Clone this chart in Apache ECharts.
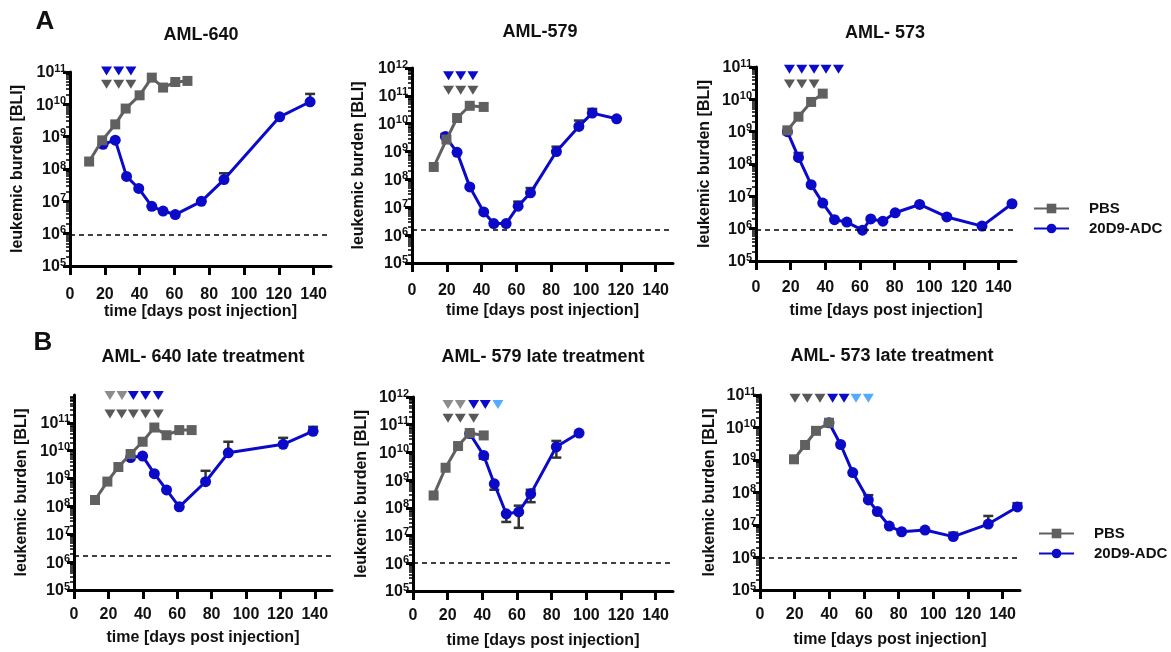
<!DOCTYPE html>
<html><head><meta charset="utf-8">
<script src="https://cdn.jsdelivr.net/npm/echarts@6/dist/echarts.min.js"></script>
<style>html,body{margin:0;padding:0;background:#fff}#c{width:1171px;height:652px}</style>
</head><body><div id="c"></div>
<script>
// ---------------- DATA ----------------
const X_TICKS = [0, 20, 40, 60, 80, 100, 120, 140];
const SERIES_NAMES = ['PBS', '20D9-ADC'];

// A: AML-640
const A640_PBS_DAY = [11, 18.5, 26, 32, 40, 47, 53.5, 60.5, 67.5];
const A640_PBS_BLI = [1.7e8, 7.7e8, 2.4e9, 7.4e9, 1.9e10, 6.7e10, 3.3e10, 4.9e10, 5.3e10];
const A640_ADC_DAY = [19, 26, 32.5, 39.5, 47, 53.5, 60.5, 75.5, 88.5, 120.5, 138];
const A640_ADC_BLI = [5.8e8, 7.8e8, 5.9e7, 2.5e7, 7e6, 5e6, 3.9e6, 1.0e7, 4.7e7, 4.1e9, 1.2e10];
const A640_ADC_HI = [null, null, null, null, null, null, null, null, 7.4e7, null, 2.1e10];
const A640_THR = 9e5;
const A640_TX_ADC = [21, 28, 35];
const A640_TX_PBS = [21, 28, 35];

// A: AML-579
const A579_PBS_DAY = [12.5, 19.8, 25.9, 33.2, 41.2];
const A579_PBS_BLI = [2.8e8, 2.7e9, 1.6e10, 4.4e10, 4.0e10];
const A579_ADC_DAY = [19.2, 25.9, 33.2, 41.2, 47, 54.1, 61, 68.1, 83, 95.9, 103.6, 117.6];
const A579_ADC_BLI = [3.5e9, 9.4e8, 5.4e7, 6.8e6, 2.6e6, 2.6e6, 1.1e7, 3.3e7, 1.0e9, 8.0e9, 2.4e10, 1.5e10];
const A579_ADC_HI = [4.3e9, null, null, null, null, null, 1.6e7, 4.9e7, 1.5e9, 1.3e10, 3.4e10, null];
const A579_THR = 1.5e6;
const A579_TX_ADC = [21, 28, 35];
const A579_TX_PBS = [21, 28, 35];

// A: AML-573
const A573_PBS_DAY = [18.1, 24.5, 31.8, 38.5];
const A573_PBS_BLI = [1.1e9, 2.9e9, 8.3e9, 1.5e10];
const A573_ADC_DAY = [18.1, 24.5, 31.8, 38.5, 45.3, 52.4, 61.4, 66.2, 73.2, 80.3, 94.4, 110.1, 130.4, 147.7];
const A573_ADC_BLI = [1.0e9, 1.6e8, 2.3e7, 6.2e6, 1.9e6, 1.6e6, 9.0e5, 2.0e6, 1.7e6, 3.1e6, 5.6e6, 2.3e6, 1.2e6, 5.9e6];
const A573_ADC_HI = [null, 2.2e8, null, null, null, null, null, null, null, null, null, null, null, null];
const A573_THR = 9e5;
const A573_TX_ADC = [19.3, 26.4, 33.5, 40.4, 47.6];
const A573_TX_PBS = [19.3, 26.4, 33.5];

// B: AML-640 late treatment
const B640_PBS_DAY = [12.2, 19.4, 25.8, 32.9, 39.9, 46.7, 53.8, 61.2, 68.4];
const B640_PBS_BLI = [1.7e8, 7.8e8, 2.6e9, 7.6e9, 2.1e10, 6.8e10, 3.6e10, 5.5e10, 5.5e10];
const B640_ADC_DAY = [32.9, 39.9, 46.7, 53.8, 61.2, 76.5, 89.7, 121.6, 139];
const B640_ADC_BLI = [5.7e9, 6.4e9, 1.5e9, 3.9e8, 9.7e7, 7.7e8, 8.4e9, 1.7e10, 5.0e10];
const B640_ADC_HI = [null, null, null, null, null, 1.9e9, 2.1e10, 2.9e10, 7.2e10];
const B640_THR = 1.7e6;
const B640_TX_PRE = [20.9, 27.9];
const B640_TX_ADC = [34.5, 41.6, 49];
const B640_TX_PBS = [20.9, 27.7, 34.5, 41.6, 49];

// B: AML-579 late treatment
const B579_PBS_DAY = [11.9, 18.8, 26, 32.7, 40.8];
const B579_PBS_BLI = [2.8e8, 2.8e9, 1.7e10, 5.0e10, 4.1e10];
const B579_ADC_DAY = [32.7, 40.8, 46.9, 53.8, 61, 67.9, 82.7, 95.8];
const B579_ADC_BLI = [4.8e10, 7.8e9, 7.4e8, 6.1e7, 7.1e7, 3.2e8, 1.6e10, 5.0e10];
const B579_ADC_HI = [null, null, null, null, 1.2e8, 4.5e8, 2.6e10, null];
const B579_ADC_LO = [null, 5.9e9, 4.5e8, 3.1e7, 1.9e7, 1.6e8, 6.5e9, null];
const B579_THR = 1.05e6;
const B579_TX_PRE = [20.2, 27.3];
const B579_TX_ADC = [35, 41.7];
const B579_TX_LATE = [49];
const B579_TX_PBS = [20.2, 27.3, 35];

// B: AML-573 late treatment
const B573_PBS_DAY = [19.6, 26, 32.3, 39.8];
const B573_PBS_BLI = [1.05e9, 2.9e9, 7.9e9, 1.4e10];
const B573_ADC_DAY = [39.8, 46.5, 53.5, 62.5, 67.7, 74.6, 81.7, 95.2, 111.5, 131.7, 148.5];
const B573_ADC_BLI = [1.4e10, 3.0e9, 4.1e8, 5.9e7, 2.6e7, 9.3e6, 6.2e6, 7.0e6, 4.4e6, 1.07e7, 3.6e7];
const B573_ADC_HI = [null, null, null, 8.3e7, null, null, null, null, 5.8e6, 1.9e7, 4.7e7];
const B573_THR = 1.0e6;
const B573_TX_PRE = [20.2, 27.3, 34.6];
const B573_TX_ADC = [41.9, 48.5];
const B573_TX_LATE = [55.4, 62.5];

// ---------------- STYLE / LAYOUT ----------------
const FONT = '"Liberation Sans", Arial, Helvetica, sans-serif';
const BLUE = '#0a0ac8', GRAY = '#606060', LGRAY = '#8c8c8c', DGRAY = '#585858', LBLUE = '#55aaff', ERRC = '#333333';
const TXT = '#111111';

const panels = [
  { title: 'AML-640', titleX: 201, titleY: 35, grid: { left: 70, top: 72, width: 261, height: 194 }, ymax: 1e11,
    lm: 21, ng: 34, yng: 44,
    pbsDay: A640_PBS_DAY, pbs: A640_PBS_BLI, adcDay: A640_ADC_DAY, adc: A640_ADC_BLI, hi: A640_ADC_HI, lo: null, thr: A640_THR,
    marks: [{ days: A640_TX_ADC, level: 1.07e11, color: BLUE }, { days: A640_TX_PBS, level: 4.2e10, color: DGRAY }] },
  { title: 'AML-579', titleX: 540, titleY: 32, grid: { left: 412, top: 68, width: 261, height: 195 }, ymax: 1e12,
    lm: 19.5, ng: 39.5, yng: 45,
    pbsDay: A579_PBS_DAY, pbs: A579_PBS_BLI, adcDay: A579_ADC_DAY, adc: A579_ADC_BLI, hi: A579_ADC_HI, lo: null, thr: A579_THR,
    marks: [{ days: A579_TX_ADC, level: 5.3e11, color: BLUE }, { days: A579_TX_PBS, level: 1.6e11, color: DGRAY }] },
  { title: 'AML- 573', titleX: 885, titleY: 33, grid: { left: 756, top: 67, width: 260, height: 194 }, ymax: 1e11,
    lm: 18.5, ng: 42, yng: 43,
    pbsDay: A573_PBS_DAY, pbs: A573_PBS_BLI, adcDay: A573_ADC_DAY, adc: A573_ADC_BLI, hi: A573_ADC_HI, lo: null, thr: A573_THR,
    marks: [{ days: A573_TX_ADC, level: 8.5e10, color: BLUE }, { days: A573_TX_PBS, level: 3e10, color: DGRAY }] },
  { title: 'AML- 640 late treatment', titleX: 203, titleY: 357, grid: { left: 74, top: 395, width: 258, height: 195 }, ymax: 1e12, ylabmax: 1e11,
    lm: 17, ng: 40, yng: 44,
    pbsDay: B640_PBS_DAY, pbs: B640_PBS_BLI, adcDay: B640_ADC_DAY, adc: B640_ADC_BLI, hi: B640_ADC_HI, lo: null, thr: B640_THR,
    marks: [{ days: B640_TX_PRE, level: 9.6e11, color: LGRAY }, { days: B640_TX_ADC, level: 9.6e11, color: BLUE },
            { days: B640_TX_PBS, level: 2.1e11, color: DGRAY }] },
  { title: 'AML- 579 late treatment', titleX: 543, titleY: 357, grid: { left: 413, top: 397, width: 260, height: 194 }, ymax: 1e12,
    lm: 17, ng: 42, yng: 43,
    pbsDay: B579_PBS_DAY, pbs: B579_PBS_BLI, adcDay: B579_ADC_DAY, adc: B579_ADC_BLI, hi: B579_ADC_HI, lo: B579_ADC_LO, thr: B579_THR,
    marks: [{ days: B579_TX_PRE, level: 5.4e11, color: LGRAY }, { days: B579_TX_ADC, level: 5.4e11, color: BLUE },
            { days: B579_TX_LATE, level: 5.4e11, color: LBLUE }, { days: B579_TX_PBS, level: 1.7e11, color: DGRAY }] },
  { title: 'AML- 573 late treatment', titleX: 892, titleY: 356, grid: { left: 760, top: 395, width: 260, height: 195 }, ymax: 1e11,
    lm: 17, ng: 42, yng: 42,
    pbsDay: B573_PBS_DAY, pbs: B573_PBS_BLI, adcDay: B573_ADC_DAY, adc: B573_ADC_BLI, hi: B573_ADC_HI, lo: null, thr: B573_THR,
    marks: [{ days: B573_TX_PRE, level: 8e10, color: DGRAY }, { days: B573_TX_ADC, level: 8e10, color: BLUE },
            { days: B573_TX_LATE, level: 8e10, color: LBLUE }] }
];

function decades(lo, hi) { const r = []; for (let e = Math.round(Math.log10(lo)); e <= Math.round(Math.log10(hi)); e++) r.push(Math.pow(10, e)); return r; }
function minorTicks(lo, hi) {
  const r = [];
  for (let e = Math.round(Math.log10(lo)); e < Math.round(Math.log10(hi)); e++)
    for (let k = 2; k <= 9; k++) r.push(k * Math.pow(10, e));
  return r;
}

function errRender(params, api) {
  const x = api.value(0), y = api.value(1), lo = api.value(2), hi = api.value(3);
  const p = api.coord([x, y]);
  const st = { stroke: ERRC, lineWidth: 2.5 };
  const ch = [];
  [hi, lo].forEach(function (v, i) {
    if ((i === 0 && v > y) || (i === 1 && v < y)) {
      const q = api.coord([x, v]);
      ch.push({ type: 'line', shape: { x1: p[0], y1: p[1], x2: q[0], y2: q[1] }, style: st });
      ch.push({ type: 'line', shape: { x1: q[0] - 5, y1: q[1], x2: q[0] + 5, y2: q[1] }, style: st });
    }
  });
  return { type: 'group', children: ch };
}

const grids = [], xAxes = [], yAxes = [], series = [];
panels.forEach(function (p, i) {
  grids.push(Object.assign({ containLabel: false }, p.grid));
  xAxes.push({
    type: 'value', gridIndex: i, min: 0, max: 150,
    name: 'time [days post injection]', nameLocation: 'middle', nameGap: p.ng,
    nameTextStyle: { fontFamily: FONT, fontSize: 16, fontWeight: 'bold', color: TXT },
    axisLine: { show: true, lineStyle: { color: '#000', width: 3 } },
    axisTick: { show: true, length: 9, lineStyle: { color: '#000', width: 3 }, customValues: X_TICKS },
    axisLabel: { show: true, margin: p.lm, fontFamily: FONT, fontSize: 16, fontWeight: 'bold', color: TXT, customValues: X_TICKS },
    splitLine: { show: false }
  });
  const labMax = p.ylabmax || p.ymax;
  yAxes.push({
    type: 'log', logBase: 10, gridIndex: i, min: 1e5, max: p.ymax, position: 'left',
    name: 'leukemic burden [BLI]', nameLocation: 'middle', nameGap: p.yng, nameRotate: 90,
    nameTextStyle: { fontFamily: FONT, fontSize: 16, fontWeight: 'bold', color: TXT },
    axisLine: { show: true, lineStyle: { color: '#000', width: 3 } },
    axisTick: { show: true, length: 7, lineStyle: { color: '#000', width: 3 }, customValues: decades(1e5, labMax) },
    axisLabel: {
      show: true, margin: 4, customValues: decades(1e5, labMax),
      formatter: function (v) { return '{b|10}{s|' + Math.round(Math.log10(v)) + '}'; },
      rich: {
        b: { fontFamily: FONT, fontSize: 16, fontWeight: 'bold', color: TXT, lineHeight: 18, verticalAlign: 'bottom' },
        s: { fontFamily: FONT, fontSize: 11, fontWeight: 'bold', color: TXT, lineHeight: 18, verticalAlign: 'top' }
      }
    },
    splitLine: { show: false }
  });
  yAxes.push({
    type: 'log', logBase: 10, gridIndex: i, min: 1e5, max: p.ymax, position: 'left',
    axisLine: { show: false },
    axisTick: { show: true, length: 4, lineStyle: { color: '#000', width: 1.5 }, customValues: minorTicks(1e5, p.ymax) },
    axisLabel: { show: false },
    splitLine: { show: false }
  });
  const yi = 2 * i;

  const errData = [];
  p.adcDay.forEach(function (d, j) {
    const h = p.hi ? p.hi[j] : null, l = p.lo ? p.lo[j] : null;
    if (h != null || l != null) errData.push([d, p.adc[j], l != null ? l : p.adc[j], h != null ? h : p.adc[j]]);
  });
  series.push({
    type: 'custom', xAxisIndex: i, yAxisIndex: yi, renderItem: errRender, data: errData,
    encode: { x: 0, y: 1 }, z: 1, silent: true
  });
  series.push({
    name: SERIES_NAMES[1], type: 'line', xAxisIndex: i, yAxisIndex: yi,
    data: p.adcDay.map(function (d, j) { return [d, p.adc[j]]; }),
    symbol: 'circle', symbolSize: 11, showAllSymbol: true,
    lineStyle: { color: BLUE, width: 3 }, itemStyle: { color: BLUE }, z: 2,
    markLine: {
      silent: true, symbol: ['none', 'none'], label: { show: false },
      lineStyle: { color: '#000', width: 1.5, type: [5, 4] },
      data: [{ yAxis: p.thr }], animation: false
    }
  });
  series.push({
    name: SERIES_NAMES[0], type: 'line', xAxisIndex: i, yAxisIndex: yi,
    data: p.pbsDay.map(function (d, j) { return [d, p.pbs[j]]; }),
    symbol: 'rect', symbolSize: 10, showAllSymbol: true,
    lineStyle: { color: GRAY, width: 3 }, itemStyle: { color: GRAY }, z: 3
  });
  p.marks.forEach(function (m) {
    series.push({
      type: 'scatter', xAxisIndex: i, yAxisIndex: yi, clip: false, silent: true,
      data: m.days.map(function (d) { return [d, m.level]; }),
      symbol: 'triangle', symbolRotate: 180, symbolSize: [11, 9],
      itemStyle: { color: m.color, opacity: 1 }, z: 4
    });
  });
});

const graphics = panels.map(function (p) {
  return { type: 'text', x: p.titleX, y: p.titleY, style: {
    text: p.title, font: 'bold 18px ' + FONT, fill: TXT,
    textAlign: 'center', textVerticalAlign: 'middle', align: 'center', verticalAlign: 'middle' } };
});
graphics.push({ type: 'text', x: 45, y: 22, style: { text: 'A', font: 'bold 26px ' + FONT, fill: TXT, textAlign: 'center', textVerticalAlign: 'middle', align: 'center', verticalAlign: 'middle' } });
graphics.push({ type: 'text', x: 43, y: 343, style: { text: 'B', font: 'bold 26px ' + FONT, fill: TXT, textAlign: 'center', textVerticalAlign: 'middle', align: 'center', verticalAlign: 'middle' } });

const legendBase = {
  data: SERIES_NAMES, orient: 'vertical', itemWidth: 35, itemHeight: 12, itemGap: 5, selectedMode: false,
  textStyle: { fontFamily: FONT, fontSize: 15, fontWeight: 'bold', color: TXT, padding: [0, 0, 0, 15] }
};

const option = {
  animation: false,
  backgroundColor: '#fff',
  grid: grids, xAxis: xAxes, yAxis: yAxes, series: series,
  graphic: graphics,
  legend: [
    Object.assign({}, legendBase, { left: 1028, top: 196 }),
    Object.assign({}, legendBase, { left: 1033, top: 521 })
  ]
};

const chart = echarts.init(document.getElementById('c'), null, { renderer: 'canvas' });
chart.setOption(option);
</script></body></html>
